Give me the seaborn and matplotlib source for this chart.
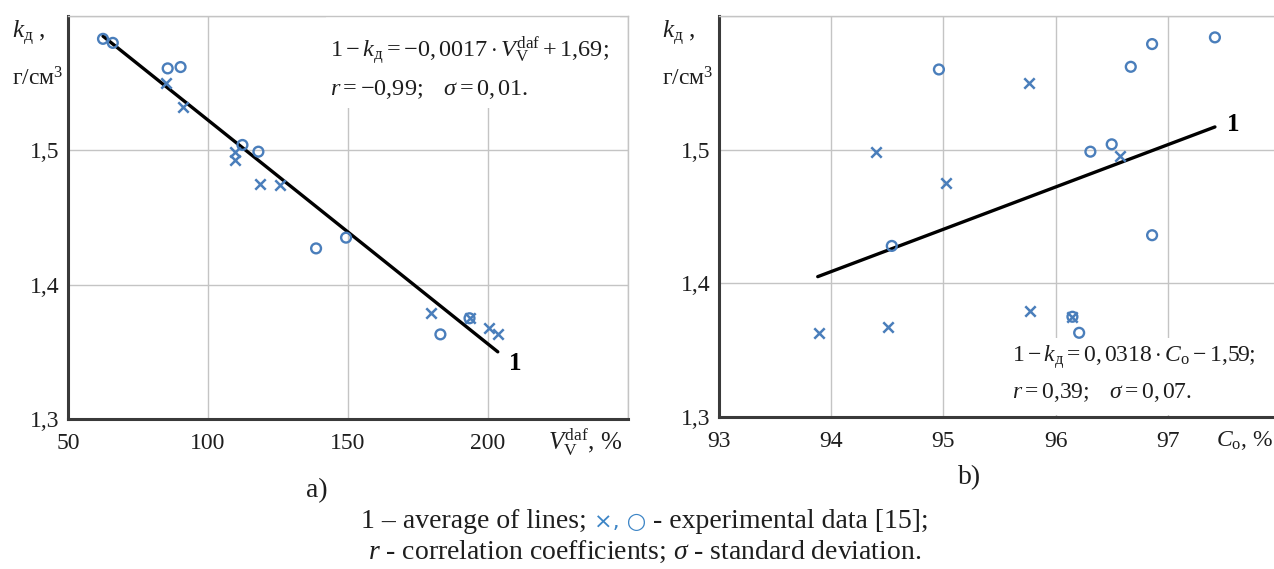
import matplotlib
matplotlib.use("Agg")
import matplotlib.pyplot as plt
import seaborn as sns
from matplotlib.patches import Rectangle

# ---- data -------------------------------------------------------------
# (a) dependence on volatile matter yield V_V^daf, %
vol_circ_x = [62.5, 66.0, 85.6, 90.2, 112.3, 118.0, 138.6, 149.3, 183.0, 193.4]
vol_circ_y = [1.583, 1.580, 1.561, 1.562, 1.504, 1.499, 1.427, 1.435, 1.363, 1.375]
vol_cross_x = [84.9, 91.0, 109.8, 109.8, 118.7, 125.8, 179.5, 193.4, 200.4, 203.4]
vol_cross_y = [1.550, 1.532, 1.4985, 1.493, 1.475, 1.474, 1.379, 1.375, 1.368, 1.363]
vol_fit_x = [62.5, 203.5]
vol_fit_y = [1.585, 1.350]

# (b) dependence on carbon content C_o, %
carb_circ_x = [94.96, 96.86, 96.67, 97.42, 96.31, 96.50, 96.86, 94.54, 96.21, 96.15]
carb_circ_y = [1.560, 1.579, 1.562, 1.584, 1.4985, 1.504, 1.436, 1.428, 1.363, 1.375]
carb_cross_x = [94.40, 95.02, 95.76, 96.57, 93.89, 94.51, 95.77, 96.15]
carb_cross_y = [1.4985, 1.475, 1.550, 1.495, 1.363, 1.367, 1.379, 1.375]
carb_fit_x = [93.88, 97.42]
carb_fit_y = [1.405, 1.517]

vol_ticks = [50, 100, 150, 200, 250]
vol_ticklabels = ["50", "100", "150", "200", ""]
carb_ticks = [93, 94, 95, 96, 97, 98]
carb_ticklabels = ["93", "94", "95", "96", "97", ""]
k_ticks = [1.3, 1.4, 1.5, 1.6]
k_ticklabels = ["1,3", "1,4", "1,5", ""]

# ---- style ------------------------------------------------------------
sns.set_style("white")
plt.rcParams["font.family"] = ["Liberation Serif", "DejaVu Sans"]
plt.rcParams["mathtext.fontset"] = "custom"
plt.rcParams["mathtext.rm"] = "Liberation Serif"
plt.rcParams["mathtext.it"] = "Liberation Serif:italic"
plt.rcParams["mathtext.bf"] = "Liberation Serif:bold"

BLUE = "#4a7ebb"
INK = "#1e1e1e"
GRID = "#c4c4c4"
W, H = 1274, 569

fig = plt.figure(figsize=(W / 100, H / 100), dpi=100)


def fx(x):
    return x / W


def fy(y):
    return 1 - y / H


def make_axes(x0, x1, y0, y1):
    return fig.add_axes([fx(x0), fy(y1), fx(x1) - fx(x0), fy(y0) - fy(y1)])


ax_a = make_axes(68, 628, 16, 419)
ax_b = make_axes(719, 1280, 16, 417)


def style_axes(ax, xlim, xticks, xlabels):
    ax.set_xlim(*xlim)
    ax.set_ylim(1.3, 1.6)
    ax.set_xticks(xticks)
    ax.set_xticklabels(xlabels)
    ax.set_yticks(k_ticks)
    ax.set_yticklabels(k_ticklabels)
    ax.set_axisbelow(True)
    ax.grid(True, color=GRID, linewidth=1.0)
    for side in ("top", "right"):
        ax.spines[side].set_color(GRID)
        ax.spines[side].set_linewidth(1.0)
    for side in ("left", "bottom"):
        ax.spines[side].set_color("#3a3a3a")
        ax.spines[side].set_linewidth(2.2)
    ax.tick_params(direction="out", length=4, width=1, color="#808080",
                   labelsize=17, labelcolor=INK, pad=2)
    ax.tick_params(axis="x", pad=6)
    ax.set_xlabel("")
    ax.set_ylabel("")


def draw_points(ax, cx, cy, xx, xy, fx_, fy_):
    sns.lineplot(x=fx_, y=fy_, ax=ax, color="black", linewidth=2.4,
                 legend=False, zorder=3)
    sns.scatterplot(x=cx, y=cy, ax=ax, marker="o", s=50, facecolor="none",
                    edgecolor=BLUE, linewidth=1.7, zorder=4, legend=False)
    sns.scatterplot(x=xx, y=xy, ax=ax, marker="x", s=56, color=BLUE,
                    linewidth=1.8, zorder=4, legend=False)


draw_points(ax_a, vol_circ_x, vol_circ_y, vol_cross_x, vol_cross_y,
            vol_fit_x, vol_fit_y)
draw_points(ax_b, carb_circ_x, carb_circ_y, carb_cross_x, carb_cross_y,
            carb_fit_x, carb_fit_y)
style_axes(ax_a, (50, 250), vol_ticks, vol_ticklabels)
style_axes(ax_b, (93, 98), carb_ticks, carb_ticklabels)

# white panels behind the regression equations
ax_a.add_patch(Rectangle((0.46, 0.772), 0.525, 0.226, transform=ax_a.transAxes,
                         facecolor="white", edgecolor="none", zorder=1))
ax_b.add_patch(Rectangle((0.515, 0.006), 0.465, 0.19, transform=ax_b.transAxes,
                         facecolor="white", edgecolor="none", zorder=1))

EQ = 17.5
fig.text(fx(330), fy(57), r"$1-k_{\mathrm{д}} = -0{,}\,0017\cdot V_{\mathrm{V}}^{\mathrm{daf}} + 1{,}69;$",
         fontsize=EQ, color=INK, ha="left", va="baseline")
fig.text(fx(330), fy(95), r"$r = -0{,}99;\quad \sigma = 0{,}\,01.$",
         fontsize=EQ, color=INK, ha="left", va="baseline")
fig.text(fx(1012), fy(362), r"$1-k_{\mathrm{д}} = 0{,}\,0318\cdot C_{\mathrm{o}} - 1{,}59;$",
         fontsize=17, color=INK, ha="left", va="baseline")
fig.text(fx(1012), fy(398), r"$r = 0{,}39;\quad \sigma = 0{,}\,07.$",
         fontsize=17, color=INK, ha="left", va="baseline")

# curve labels
fig.text(fx(509), fy(370), "1", fontsize=18, fontweight="bold", color="black",
         ha="left", va="baseline")
fig.text(fx(1227), fy(131), "1", fontsize=18, fontweight="bold", color="black",
         ha="left", va="baseline")

# axis titles
for x0 in (12, 662):
    fig.text(fx(x0), fy(38), r"$k_{\mathrm{д}}$ ,", fontsize=18, color=INK,
             ha="left", va="baseline")
    fig.text(fx(x0), fy(85), r"г/см$^{3}$", fontsize=17, color=INK,
             ha="left", va="baseline")
fig.text(fx(548), fy(450), r"$V_{\mathrm{V}}^{\mathrm{daf}}$, %", fontsize=18,
         color=INK, ha="left", va="baseline")
fig.text(fx(1216), fy(446), r"$C_{\mathrm{o}}$, %", fontsize=17, color=INK,
         ha="left", va="baseline")

# panel letters
fig.text(fx(317), fy(497), "a)", fontsize=20, color=INK, ha="center", va="baseline")
fig.text(fx(970), fy(484), "b)", fontsize=20, color=INK, ha="center", va="baseline")

# caption, assembled from pieces so the marker symbols can be blue
CAP = 20
renderer = fig.canvas.get_renderer()


def caption_line(y, parts):
    texts = []
    for s, kw in parts:
        t = fig.text(0, fy(y), s, fontsize=kw.get("size", CAP), color=kw.get("color", INK),
                     family=kw.get("family", ["Liberation Serif", "DejaVu Sans"]),
                     ha="left", va="baseline")
        texts.append(t)
    widths = [t.get_window_extent(renderer).width for t in texts]
    x = 645 - sum(widths) / 2
    for t, w in zip(texts, widths):
        t.set_x(fx(x))
        x += w


caption_line(528, [("1 – average of lines; ", {}),
                   ("×, ○", {"color": "#3d85c6", "family": ["DejaVu Sans"], "size": 16}),
                   (" - experimental data [15];", {})])
caption_line(559, [(r"$r$ - correlation coefficients; $\sigma$ - standard deviation.", {})])

fig.savefig("out.png", dpi=100)
